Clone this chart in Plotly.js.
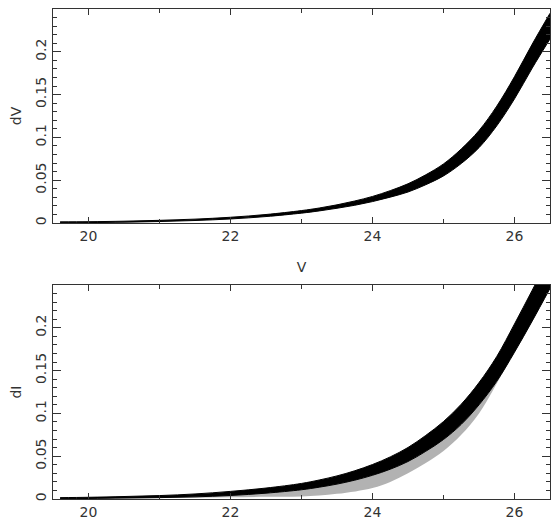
<!DOCTYPE html>
<html>
<head>
<meta charset="utf-8">
<script src="https://cdn.plot.ly/plotly-3.0.1.min.js"></script>
<style>html,body{margin:0;padding:0;background:#fff;}#chart{width:560px;height:526px;}</style>
</head>
<body>
<div id="chart"></div>
<script>
// ---- data ----
// Top panel: V vs dV (dense band of points: lower and upper edges)
const vX    = [19.6, 20, 20.5, 21, 21.5, 22, 22.5, 23, 23.25, 23.5, 23.75, 24, 24.25, 24.5, 24.75, 25, 25.25, 25.5, 25.75, 26, 26.25, 26.5];
const vLow  = [0.0003, 0.0005, 0.0009, 0.0017, 0.0029, 0.0047, 0.0075, 0.0115, 0.0141, 0.0172, 0.0207, 0.025, 0.0302, 0.0362, 0.0447, 0.055, 0.0695, 0.088, 0.1135, 0.145, 0.181, 0.215];
const vHigh = [0.0013, 0.0015, 0.0021, 0.0031, 0.0045, 0.0067, 0.0099, 0.0145, 0.0175, 0.0212, 0.0257, 0.031, 0.0378, 0.0458, 0.0563, 0.069, 0.0865, 0.108, 0.1365, 0.171, 0.209, 0.245];

// Bottom panel: V vs dI (dense band edges)
const iX    = [19.6, 20, 20.5, 21, 21.5, 22, 22.5, 23, 23.25, 23.5, 23.75, 24, 24.25, 24.5, 24.75, 25, 25.25, 25.5, 25.75, 26, 26.25, 26.5];
const iLow  = [0.0004, 0.0006, 0.0011, 0.0016, 0.0025, 0.0041, 0.0068, 0.0108, 0.0138, 0.0174, 0.022, 0.0277, 0.0348, 0.0438, 0.0557, 0.0695, 0.0872, 0.11, 0.1375, 0.1715, 0.208, 0.246];
const iHigh = [0.0016, 0.002, 0.0029, 0.004, 0.0059, 0.0089, 0.0128, 0.0182, 0.0222, 0.027, 0.033, 0.0403, 0.0492, 0.0602, 0.0743, 0.0905, 0.1108, 0.136, 0.1665, 0.2045, 0.244, 0.284];
// Bottom panel: sparse scatter below the band (its lower edge)
const iSparseX   = [21, 21.5, 22, 22.5, 23, 23.5, 24, 24.25, 24.5, 24.75, 25, 25.25, 25.5, 25.75];
const iSparseLow = [0.0012, 0.0015, 0.002, 0.0025, 0.003, 0.006, 0.013, 0.02, 0.03, 0.042, 0.056, 0.075, 0.1, 0.135];

// ticks
const xTicks = [20, 22, 24, 26];
const xTickText = ['20', '22', '24', '26'];
const yTicks = [0, 0.05, 0.1, 0.15, 0.2];
const yTickText = ['0', '0.05', '0.1', '0.15', '0.2'];

const FONT = {family: 'DejaVu Sans, sans-serif', size: 14, color: '#333'};
const band = 'rgba(0,0,0,1)';

const traces = [
  {x: vX, y: vLow, xaxis: 'x', yaxis: 'y', mode: 'lines', line: {color: band, width: 1, shape: 'spline'}, hoverinfo: 'skip'},
  {x: vX, y: vHigh, xaxis: 'x', yaxis: 'y', mode: 'lines', fill: 'tonexty', fillcolor: band, line: {color: band, width: 1, shape: 'spline'}, hoverinfo: 'skip'},
  {x: iSparseX, y: iSparseLow, xaxis: 'x2', yaxis: 'y2', mode: 'lines', line: {color: 'rgba(0,0,0,0)', width: 0, shape: 'spline'}, hoverinfo: 'skip'},
  {x: iX, y: iLow, xaxis: 'x2', yaxis: 'y2', mode: 'lines', fill: 'tonexty', fillcolor: 'rgba(0,0,0,0.3)', line: {color: band, width: 1, shape: 'spline'}, hoverinfo: 'skip'},
  {x: iX, y: iHigh, xaxis: 'x2', yaxis: 'y2', mode: 'lines', fill: 'tonexty', fillcolor: band, line: {color: band, width: 1, shape: 'spline'}, hoverinfo: 'skip'}
];

function xa(anchor, title) {
  return {
    anchor: anchor, range: [19.5, 26.5], tickmode: 'array', tickvals: xTicks, ticktext: xTickText,
    ticks: 'inside', ticklen: 6, tickcolor: '#333', tickwidth: 1,
    minor: {tickmode: 'linear', tick0: 20, dtick: 1, ticks: 'inside', ticklen: 4, tickcolor: '#333'},
    showline: true, linecolor: '#333', linewidth: 1, mirror: 'ticks',
    showgrid: false, zeroline: false, tickfont: FONT,
    title: {text: title, font: FONT, standoff: 19}, automargin: false
  };
}
function ya(anchor, domain, title) {
  return {
    anchor: anchor, domain: domain, range: [0, 0.25], tickmode: 'array', tickvals: yTicks, ticktext: yTickText,
    tickangle: -90, ticks: 'inside', ticklen: 8, tickcolor: '#333', tickwidth: 1,
    minor: {tickmode: 'linear', tick0: 0, dtick: 0.01, ticks: 'inside', ticklen: 4, tickcolor: '#333'},
    showline: true, linecolor: '#333', linewidth: 1, mirror: 'ticks',
    showgrid: false, zeroline: false, tickfont: FONT,
    title: {text: title, font: FONT, standoff: 8}, automargin: false
  };
}

const layout = {
  width: 560, height: 526,
  margin: {l: 53, r: 10, t: 9, b: 27},
  paper_bgcolor: '#fff', plot_bgcolor: '#fff',
  showlegend: false,
  font: FONT,
  xaxis: xa('y', 'V'),
  yaxis: ya('x', [0.5633, 1], 'dV'),
  xaxis2: xa('y2', ''),
  yaxis2: ya('x2', [0, 0.4367], 'dI')
};

Plotly.newPlot('chart', traces, layout, {staticPlot: true, displayModeBar: false});
</script>
</body>
</html>
